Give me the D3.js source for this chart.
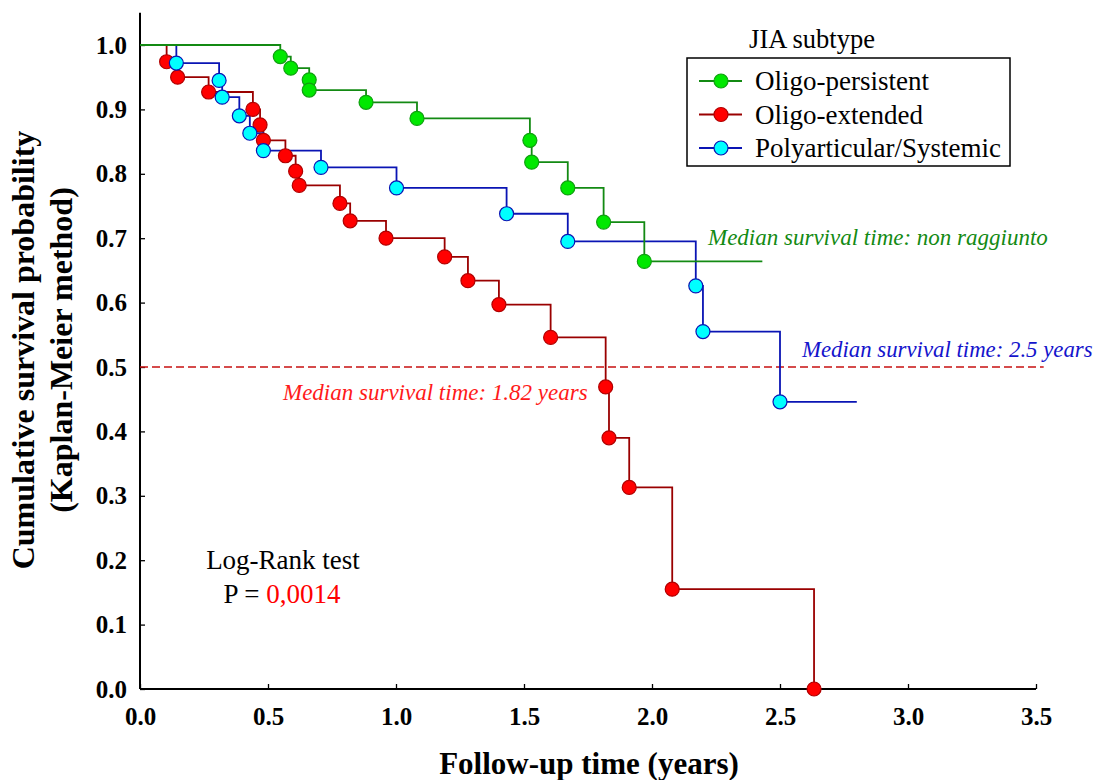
<!DOCTYPE html>
<html>
<head>
<meta charset="utf-8">
<script src="https://cdn.jsdelivr.net/npm/d3@7"></script>
<style>
  body { margin: 0; background: #fff; }
  svg { font-family: "Liberation Serif", "Times New Roman", serif; }
</style>
</head>
<body>
<div id="chart"></div>
<script>
// Kaplan-Meier steps (time in years, survival)
var persistentTimes = [0.548, 0.589, 0.661, 0.661, 0.883, 1.082, 1.523, 1.530, 1.671, 1.811, 1.970];
var persistentSurv  = [0.982, 0.964, 0.946, 0.930, 0.911, 0.886, 0.852, 0.818, 0.778, 0.725, 0.664];
var persistentEnd = 2.431;

var extendedTimes = [0.104, 0.147, 0.268, 0.441, 0.469, 0.482, 0.568, 0.608, 0.622, 0.781, 0.821,
                     0.961, 1.190, 1.281, 1.402, 1.604, 1.819, 1.832, 1.911, 2.079, 2.633];
var extendedSurv  = [0.974, 0.950, 0.927, 0.900, 0.876, 0.852, 0.828, 0.804, 0.782, 0.754, 0.727,
                     0.700, 0.671, 0.634, 0.597, 0.546, 0.469, 0.390, 0.313, 0.155, 0.0];
var extendedEnd = 2.633;

var polyTimes = [0.142, 0.309, 0.321, 0.388, 0.429, 0.482, 0.707, 1.002, 1.432, 1.671, 2.171, 2.199, 2.500];
var polySurv  = [0.972, 0.945, 0.919, 0.890, 0.863, 0.836, 0.810, 0.778, 0.738, 0.695, 0.626, 0.555, 0.446];
var polyEnd = 2.800;

var seriesNames = ["Oligo-persistent", "Oligo-extended", "Polyarticular/Systemic"];
var xTicks = [0, 0.5, 1, 1.5, 2, 2.5, 3, 3.5];
var yTicks = [0, 0.1, 0.2, 0.3, 0.4, 0.5, 0.6, 0.7, 0.8, 0.9, 1.0];
var medianLevel = 0.5;

var series = [
  { name: seriesNames[1], t: extendedTimes, s: extendedSurv, end: extendedEnd, line: "#9a0000", fill: "#ff0000", stroke: "#b00000" },
  { name: seriesNames[2], t: polyTimes, s: polySurv, end: polyEnd, line: "#0a14b4", fill: "#00ffff", stroke: "#0a14b4" },
  { name: seriesNames[0], t: persistentTimes, s: persistentSurv, end: persistentEnd, line: "#138a13", fill: "#00e800", stroke: "#10a010" }
];

var svg = d3.select("#chart").append("svg")
  .attr("width", 1095)
  .attr("height", 780);

var x = d3.scaleLinear().domain([0, 3.5]).range([140, 1036]);
var y = d3.scaleLinear().domain([0, 1]).range([689, 45]);

// axes
var axisY = d3.axisLeft(y).tickValues(yTicks).tickSize(-5).tickPadding(13).tickFormat(d3.format(".1f"));
var axisX = d3.axisBottom(x).tickValues(xTicks).tickSize(-5).tickPadding(18).tickFormat(d3.format(".1f"));

var gy = svg.append("g").attr("transform", "translate(140,0)").call(axisY);
var gx = svg.append("g").attr("transform", "translate(0,689)").call(axisX);
[gx, gy].forEach(function(g) {
  g.select(".domain").remove();
  g.selectAll(".tick line").attr("stroke", "#000").attr("stroke-width", 1.3);
  g.selectAll(".tick text")
    .attr("fill", "#000")
    .style("font-family", "'Liberation Serif', serif")
    .style("font-weight", "bold")
    .style("font-size", "25px");
});

svg.append("line")
  .attr("x1", x(0)).attr("x2", x(0))
  .attr("y1", y(0)).attr("y2", y(1.05))
  .attr("stroke", "#000").attr("stroke-width", 2);
svg.append("line")
  .attr("x1", x(0)).attr("x2", x(3.5))
  .attr("y1", y(0)).attr("y2", y(0))
  .attr("stroke", "#000").attr("stroke-width", 2);

// median line
svg.append("line")
  .attr("x1", x(0)).attr("x2", x(3.53))
  .attr("y1", y(medianLevel)).attr("y2", y(medianLevel))
  .attr("stroke", "#c81010").attr("stroke-width", 1.3)
  .attr("stroke-dasharray", "8,4");

// step lines
var stepPath = function(d) {
  var p = "M" + x(0) + "," + y(1);
  d.t.forEach(function(t, i) {
    p += "H" + x(t) + "V" + y(d.s[i]);
  });
  p += "H" + x(d.end);
  return p;
};

series.forEach(function(d) {
  svg.append("path")
    .attr("d", stepPath(d))
    .attr("fill", "none")
    .attr("stroke", d.line)
    .attr("stroke-width", 1.8);
});

series.forEach(function(d) {
  svg.append("g").selectAll("circle")
    .data(d.t)
    .join("circle")
    .attr("cx", function(t) { return x(t); })
    .attr("cy", function(t, i) { return y(d.s[i]); })
    .attr("r", 7)
    .attr("fill", d.fill)
    .attr("stroke", d.stroke)
    .attr("stroke-width", 1.2);
});

// annotations
svg.append("text").attr("x", 708).attr("y", 245)
  .attr("fill", "#138a13").style("font-style", "italic").style("font-size", "23px")
  .text("Median survival time: non raggiunto");
svg.append("text").attr("x", 802).attr("y", 357)
  .attr("fill", "#1414cc").style("font-style", "italic").style("font-size", "22.8px")
  .text("Median survival time: 2.5 years");
svg.append("text").attr("x", 283).attr("y", 400)
  .attr("fill", "#ff1a1a").style("font-style", "italic").style("font-size", "23px")
  .text("Median survival time: 1.82 years");

svg.append("text").attr("x", 283).attr("y", 569)
  .attr("text-anchor", "middle").style("font-size", "27px")
  .text("Log-Rank test");
var pt = svg.append("text").attr("x", 282).attr("y", 603)
  .attr("text-anchor", "middle").style("font-size", "27px");
pt.append("tspan").text("P = ");
pt.append("tspan").attr("fill", "#ff0000").text("0,0014");

// legend
svg.append("text").attr("x", 812).attr("y", 48)
  .attr("text-anchor", "middle").style("font-size", "26.5px")
  .text("JIA subtype");
svg.append("rect")
  .attr("x", 687).attr("y", 58).attr("width", 323).attr("height", 108)
  .attr("fill", "#fff").attr("stroke", "#000").attr("stroke-width", 1.5);

var legendOrder = [series[2], series[0], series[1]];
legendOrder.forEach(function(d, i) {
  var ly = 81 + i * 33.5;
  svg.append("line")
    .attr("x1", 699).attr("x2", 742).attr("y1", ly).attr("y2", ly)
    .attr("stroke", d.line).attr("stroke-width", 1.8);
  svg.append("circle")
    .attr("cx", 721).attr("cy", ly).attr("r", 7)
    .attr("fill", d.fill).attr("stroke", d.stroke).attr("stroke-width", 1.2);
  svg.append("text")
    .attr("x", 755).attr("y", ly + 9)
    .style("font-size", "27px")
    .text(d.name);
});

// axis titles
svg.append("text")
  .attr("x", 589).attr("y", 774)
  .attr("text-anchor", "middle")
  .style("font-weight", "bold").style("font-size", "31px")
  .text("Follow-up time (years)");

var yt = svg.append("text")
  .attr("transform", "translate(0,350) rotate(-90)")
  .attr("text-anchor", "middle")
  .style("font-weight", "bold").style("font-size", "32px");
yt.append("tspan").attr("x", 0).attr("y", 34).text("Cumulative survival probability");
yt.append("tspan").attr("x", 0).attr("y", 72).text("(Kaplan-Meier method)");
</script>
</body>
</html>
